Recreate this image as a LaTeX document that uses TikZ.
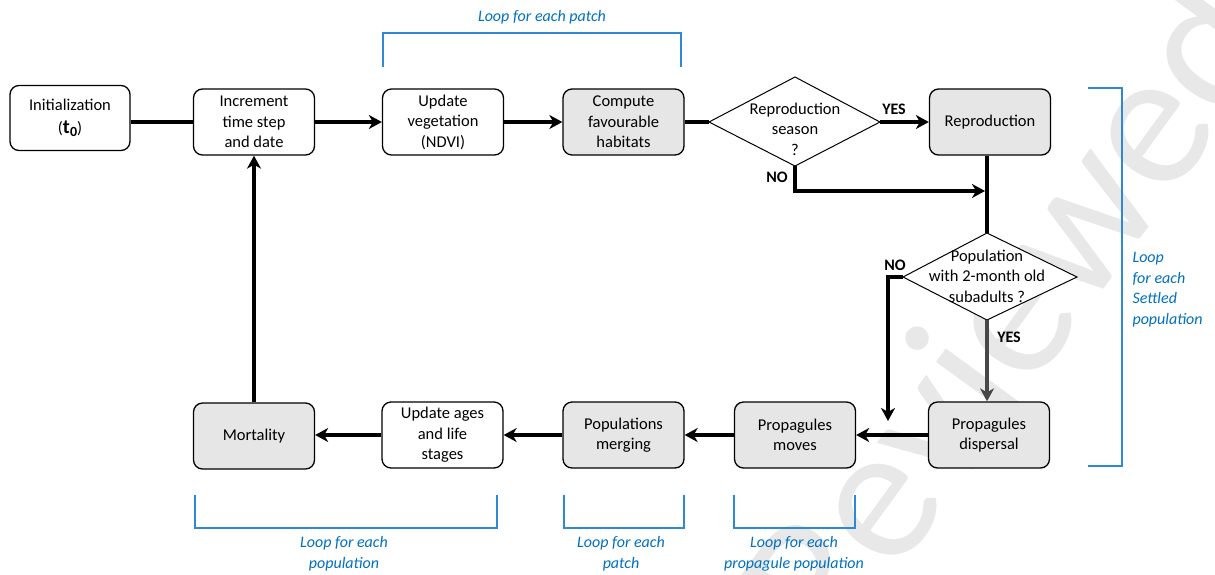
\documentclass[tikz,border=0pt]{standalone}
\usepackage{fontspec}
\setmainfont{Carlito}
\usetikzlibrary{arrows.meta}

\definecolor{loopblue}{HTML}{0070C0}
\definecolor{bracketblue}{HTML}{2F88D2}
\definecolor{boxgray}{HTML}{E6E6E6}

\tikzset{
  stepbox/.style={draw=black, line width=1.3pt, rounded corners=9pt,
    minimum width=121pt, minimum height=66pt, inner sep=2pt,
    align=center, fill=white, font=\fontsize{16.5}{20.5}\selectfont},
  graybox/.style={stepbox, fill=boxgray},
  decision/.style={draw=black, line width=1pt},
  asktext/.style={align=center, font=\fontsize{16.5}{20.5}\selectfont},
  flow/.style={line width=4.5pt, -{Stealth[length=13pt,width=14pt,inset=4pt]}},
  joinline/.style={line width=4.5pt},
  answer/.style={font=\bfseries\fontsize{16}{18}\selectfont},
  looptext/.style={align=center, text=loopblue, font=\itshape\fontsize{16}{20.5}\selectfont},
  bracket/.style={draw=bracketblue, line width=1.1pt},
}

\begin{document}
\begin{tikzpicture}[x=1pt, y=-1pt]
\useasboundingbox (0,0) rectangle (1215,574);

% faint watermark behind the chart
\begin{scope}
  \clip (0,0) rectangle (1215,574);
  \node[rotate=54, text=black!9, font=\fontsize{195}{195}\selectfont] (mark) at (1005,312) {Reviewed};
\end{scope}

% top row
\node[stepbox, minimum width=120pt, minimum height=65pt] (init) at (70,118)
  {Initialization\\[2pt](\textbf{\fontsize{20}{20}\selectfont t\kern0.3pt\raisebox{-3pt}{\fontsize{14}{14}\selectfont 0}})};
\node[stepbox] (inc) at (254,122) {Increment\\time step\\and date};
\node[stepbox] (veg) at (443,122) {Update\\vegetation\\(NDVI)};
\node[graybox] (hab) at (623.5,122) {Compute\\favourable\\habitats};
\node[graybox] (rep) at (990,122) {Reproduction};

% first decision
\coordinate (d1l) at (709,122);
\coordinate (d1t) at (795,77);
\coordinate (d1r) at (880,122);
\coordinate (d1b) at (795,166);
\draw[decision, fill=white] (d1l) -- (d1t) -- (d1r) -- (d1b) -- cycle;
\node[asktext] (d1) at (795,129) {Reproduction\\season\\?};

% second decision
\coordinate (d2l) at (903,277);
\coordinate (d2t) at (987,233);
\coordinate (d2r) at (1077,277);
\coordinate (d2b) at (987,320);
\draw[decision, fill=white] (d2l) -- (d2t) -- (d2r) -- (d2b) -- cycle;
\node[asktext] (d2) at (987,276) {Population\\with 2-month old\\subadults ?};

% bottom row
\node[graybox] (disp) at (989,435) {Propagules\\dispersal};
\node[graybox] (moves) at (795,435) {Propagules\\moves};
\node[graybox] (merge) at (623.5,435) {Populations\\merging};
\node[stepbox] (ages) at (442.5,435) {Update ages\\and life\\stages};
\node[graybox] (mort) at (254,436) {Mortality};

% connectors along the top row
\draw[joinline] (init.east |- inc.west) -- (inc.west);
\draw[flow] (inc) -- (veg);
\draw[flow] (veg) -- (hab);
\draw[joinline] (hab.east) -- (d1l);
\draw[flow] (d1r) -- (rep.west |- d1r);
\node[answer] (yes1) at (894,109) {YES};

% NO branch of the first decision
\coordinate (j1) at (985,191);
\draw[flow] (d1b) |- (j1);
\node[answer] (no1) at (777,177) {NO};
\draw[joinline] (d2t |- rep.south) -- (d2t);

% branches of the second decision
\coordinate (n2) at (888,421);
\draw[flow] (d2l) -| (n2);
\node[answer] (no2) at (895,265) {NO};
\draw[flow, draw=black!72] (d2b) -- (d2b |- disp.north);
\node[answer] (yes2) at (1009,337) {YES};

% connectors along the bottom row
\draw[flow] (disp.west) -- (moves.east);
\draw[flow] (moves.west) -- (merge.east);
\draw[flow] (merge.west) -- (ages.east);
\draw[flow] (ages.west) -- (mort.east |- ages.west);
\draw[flow] (mort.north) -- (inc.south);

% loop brackets
\draw[bracket] (383,67) -- (383,33) -- (681,33) -- (681,67);
\node[looptext] (lp1) at (542,17) {Loop for each patch};

\draw[bracket] (1088,88) -- (1122,88) -- (1122,466) -- (1088,466);
\node[looptext, align=left, anchor=north west] (lp2) at (1129,249) {Loop\\for each\\Settled\\population};

\draw[bracket] (195,495) -- (195,528) -- (497,528) -- (497,495);
\node[looptext, anchor=north] (lp3) at (344,533) {Loop for each\\population};

\draw[bracket] (564,495) -- (564,528) -- (684,528) -- (684,495);
\node[looptext, anchor=north] (lp4) at (621,533) {Loop for each\\patch};

\draw[bracket] (734,495) -- (734,528) -- (855,528) -- (855,495);
\node[looptext, anchor=north] (lp5) at (794,533) {Loop for each\\propagule population};
\end{tikzpicture}
\end{document}
